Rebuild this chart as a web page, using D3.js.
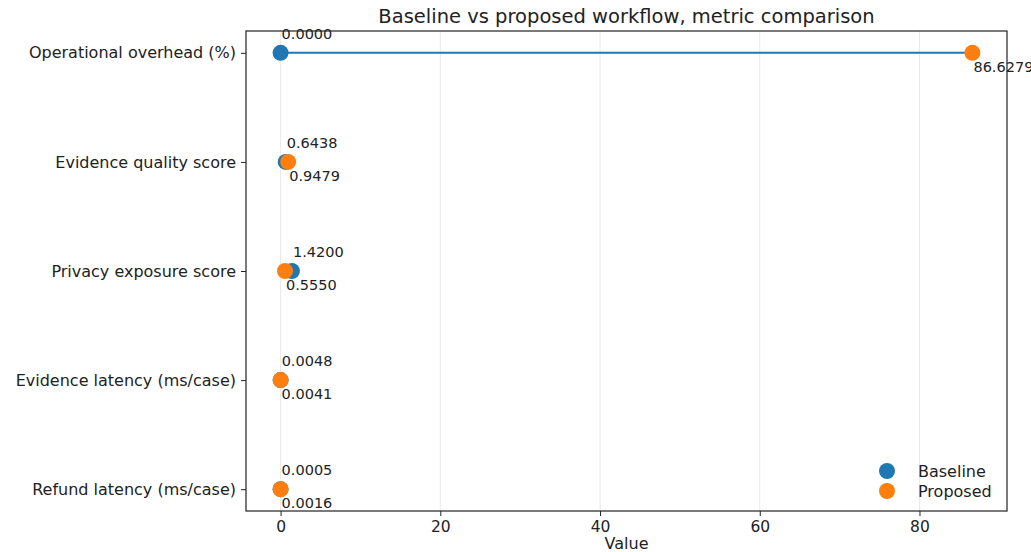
<!DOCTYPE html>
<html>
<head>
<meta charset="utf-8">
<script src="https://cdn.jsdelivr.net/npm/d3@7"></script>
<style>
  body { margin: 0; background: #fff; }
  svg { display: block; font-family: "DejaVu Sans", sans-serif; }
</style>
</head>
<body>
<svg id="chart" width="1031" height="552"></svg>
<script>
const categories = [
  "Operational overhead (%)",
  "Evidence quality score",
  "Privacy exposure score",
  "Evidence latency (ms/case)",
  "Refund latency (ms/case)"
];
const baselineValues = [0.0000, 0.6438, 1.4200, 0.0048, 0.0005];
const proposedValues = [86.6279, 0.9479, 0.5550, 0.0041, 0.0016];
const xTicks = [0, 20, 40, 60, 80];
const seriesNames = ["Baseline", "Proposed"];
const colors = ["#1f77b4", "#ff7f0e"];

const svg = d3.select("#chart");
const m = { left: 246, right: 1007, top: 31, bottom: 511 };

const allVals = baselineValues.concat(proposedValues);
const xmin = d3.min(allVals), xmax = d3.max(allVals);
const pad = (xmax - xmin) * 0.05;
const x = d3.scaleLinear().domain([xmin - pad, xmax + pad]).range([m.left, m.right]);
const n = categories.length;
const yIdx = d3.scaleLinear().domain([-0.2, n - 1 + 0.2]).range([m.top, m.bottom]);
const y = c => yIdx(categories.indexOf(c));

// grid
svg.append("g").selectAll("line").data(xTicks).join("line")
  .attr("x1", d => x(d)).attr("x2", d => x(d))
  .attr("y1", m.top).attr("y2", m.bottom)
  .attr("stroke", "#b0b0b0").attr("stroke-opacity", 0.35).attr("stroke-width", 0.8);

// connecting lines
svg.append("g").selectAll("line").data(categories).join("line")
  .attr("x1", (d, i) => x(baselineValues[i]))
  .attr("x2", (d, i) => x(proposedValues[i]))
  .attr("y1", d => y(d)).attr("y2", d => y(d))
  .attr("stroke", colors[0]).attr("stroke-width", 2);

// points
svg.append("g").selectAll("circle").data(categories).join("circle")
  .attr("cx", (d, i) => x(baselineValues[i])).attr("cy", d => y(d))
  .attr("r", 8).attr("fill", colors[0]);
svg.append("g").selectAll("circle").data(categories).join("circle")
  .attr("cx", (d, i) => x(proposedValues[i])).attr("cy", d => y(d))
  .attr("r", 8).attr("fill", colors[1]);

// value labels
svg.append("g").selectAll("text").data(categories).join("text")
  .attr("x", (d, i) => x(baselineValues[i]) + 1)
  .attr("y", d => y(d) - 14)
  .attr("font-size", 14.5).attr("fill", "#222")
  .text((d, i) => baselineValues[i].toFixed(4));
svg.append("g").selectAll("text").data(categories).join("text")
  .attr("x", (d, i) => x(proposedValues[i]) + 1)
  .attr("y", d => y(d) + 19)
  .attr("font-size", 14.5).attr("fill", "#222")
  .text((d, i) => proposedValues[i].toFixed(4));

// frame
svg.append("rect").attr("x", m.left).attr("y", m.top)
  .attr("width", m.right - m.left).attr("height", m.bottom - m.top)
  .attr("fill", "none").attr("stroke", "#222").attr("stroke-width", 1.2);

// x axis
const xAxis = svg.append("g").attr("transform", `translate(0,${m.bottom})`)
  .call(d3.axisBottom(x).tickValues(xTicks).tickSize(5).tickPadding(5).tickFormat(d3.format("d")));
xAxis.select(".domain").remove();
xAxis.selectAll("text").attr("font-size", 15.5).attr("fill", "#222").attr("font-family", "DejaVu Sans");
xAxis.selectAll("line").attr("stroke", "#222");

// y axis
const yAxis = svg.append("g").attr("transform", `translate(${m.left},0)`)
  .call(d3.axisLeft(d3.scalePoint().domain(categories).range([yIdx(0), yIdx(n - 1)]))
    .tickSize(5).tickPadding(5));
yAxis.select(".domain").remove();
yAxis.selectAll("text").attr("font-size", 16).attr("fill", "#222").attr("font-family", "DejaVu Sans");
yAxis.selectAll("line").attr("stroke", "#222");

// title and label
svg.append("text").attr("x", (m.left + m.right) / 2).attr("y", 23)
  .attr("text-anchor", "middle").attr("font-size", 19.5).attr("fill", "#222")
  .text("Baseline vs proposed workflow, metric comparison");
svg.append("text").attr("x", (m.left + m.right) / 2).attr("y", 549)
  .attr("text-anchor", "middle").attr("font-size", 16).attr("fill", "#222")
  .text("Value");

// legend
const lg = svg.append("g");
seriesNames.forEach((s, i) => {
  lg.append("circle").attr("cx", 887).attr("cy", 471 + i * 20).attr("r", 8).attr("fill", colors[i]);
  lg.append("text").attr("x", 918).attr("y", 477 + i * 20)
    .attr("font-size", 16).attr("fill", "#222").text(s);
});
</script>
</body>
</html>
